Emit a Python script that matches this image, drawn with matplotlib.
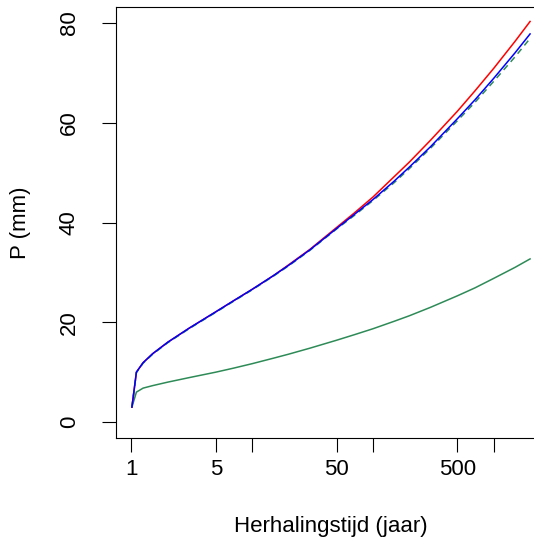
import numpy as np
import matplotlib.pyplot as plt

plt.rcParams['font.family'] = ['Liberation Sans', 'DejaVu Sans']

# return periods (years)
T = [1.01, 1.1, 1.25, 1.5, 2, 3, 5, 7, 10, 15, 20, 30, 50, 70, 100,
     150, 200, 300, 500, 700, 1000, 1500, 2000]

# precipitation (mm) per curve
p_red = [3.0, 10.0, 11.9, 13.7, 16.0, 18.8, 22.1, 24.3, 26.6, 29.35, 31.5, 34.6, 39.0, 41.9, 45.1,
         49.2, 52.1, 56.5, 62.3, 66.4, 70.9, 76.3, 80.3]
p_blue = [3.0, 10.0, 11.9, 13.7, 16.0, 18.8, 22.1, 24.3, 26.6, 29.35, 31.4, 34.5, 38.8, 41.6, 44.6,
          48.3, 51.1, 55.2, 60.8, 64.6, 68.9, 74.0, 77.8]
p_green_dash = [3.0, 9.9, 11.8, 13.6, 15.9, 18.7, 22.0, 24.2, 26.5, 29.25, 31.3, 34.4, 38.7, 41.4, 44.4,
                48.0, 50.8, 54.9, 60.4, 64.1, 68.3, 73.2, 76.9]
p_green = [3.0, 6.0, 6.8, 7.3, 8.0, 8.9, 10.0, 10.8, 11.7, 12.8, 13.6, 14.8, 16.4, 17.5, 18.7,
           20.2, 21.3, 23.0, 25.3, 26.9, 28.8, 31.0, 32.7]

xticks = [1, 5, 10, 50, 100, 500, 1000]
xticklabels = ['1', '5', '', '50', '', '500', '']
yticks = [0, 20, 40, 60, 80]

W, H = 534, 547
fig = plt.figure(figsize=(W / 100, H / 100), dpi=100)
# plot region runs past the right edge of the image, as in the original
ax = fig.add_axes([116 / W, (H - 438) / H, 430 / W, 431 / H])

ax.plot(T, p_green, color='seagreen', lw=1.1)
ax.plot(T, p_red, color='red', lw=1.1)
ax.plot(T, p_green_dash, color='seagreen', lw=1.1, ls=(0, (4, 3)))
ax.plot(T, p_blue, color='blue', lw=1.1)

ax.set_xscale('log')
lo, hi = np.log10(T[0]), np.log10(T[-1])
ext = 0.04 * (hi - lo)
ax.set_xlim(10 ** (lo - ext), 10 ** (hi + ext))
ax.set_ylim(-3.2, 83.2)

ax.set_xticks(xticks)
ax.set_xticklabels(xticklabels)
ax.xaxis.set_minor_locator(plt.NullLocator())
ax.set_yticks(yticks)
ax.set_yticklabels([str(v) for v in yticks], rotation=90, va='center')

ax.tick_params(axis='both', direction='out', length=10, width=0.8, labelsize=16)
ax.tick_params(axis='x', pad=5)
ax.tick_params(axis='y', pad=16)
for s in ax.spines.values():
    s.set_linewidth(0.8)

ax.set_xlabel('Herhalingstijd (jaar)', fontsize=16, va='center')
ax.xaxis.set_label_coords(0.5, -0.206)
ax.set_ylabel('P (mm)', fontsize=16, va='center')
ax.yaxis.set_label_coords(-0.223, 0.499)

fig.savefig('out.png', dpi=100)
